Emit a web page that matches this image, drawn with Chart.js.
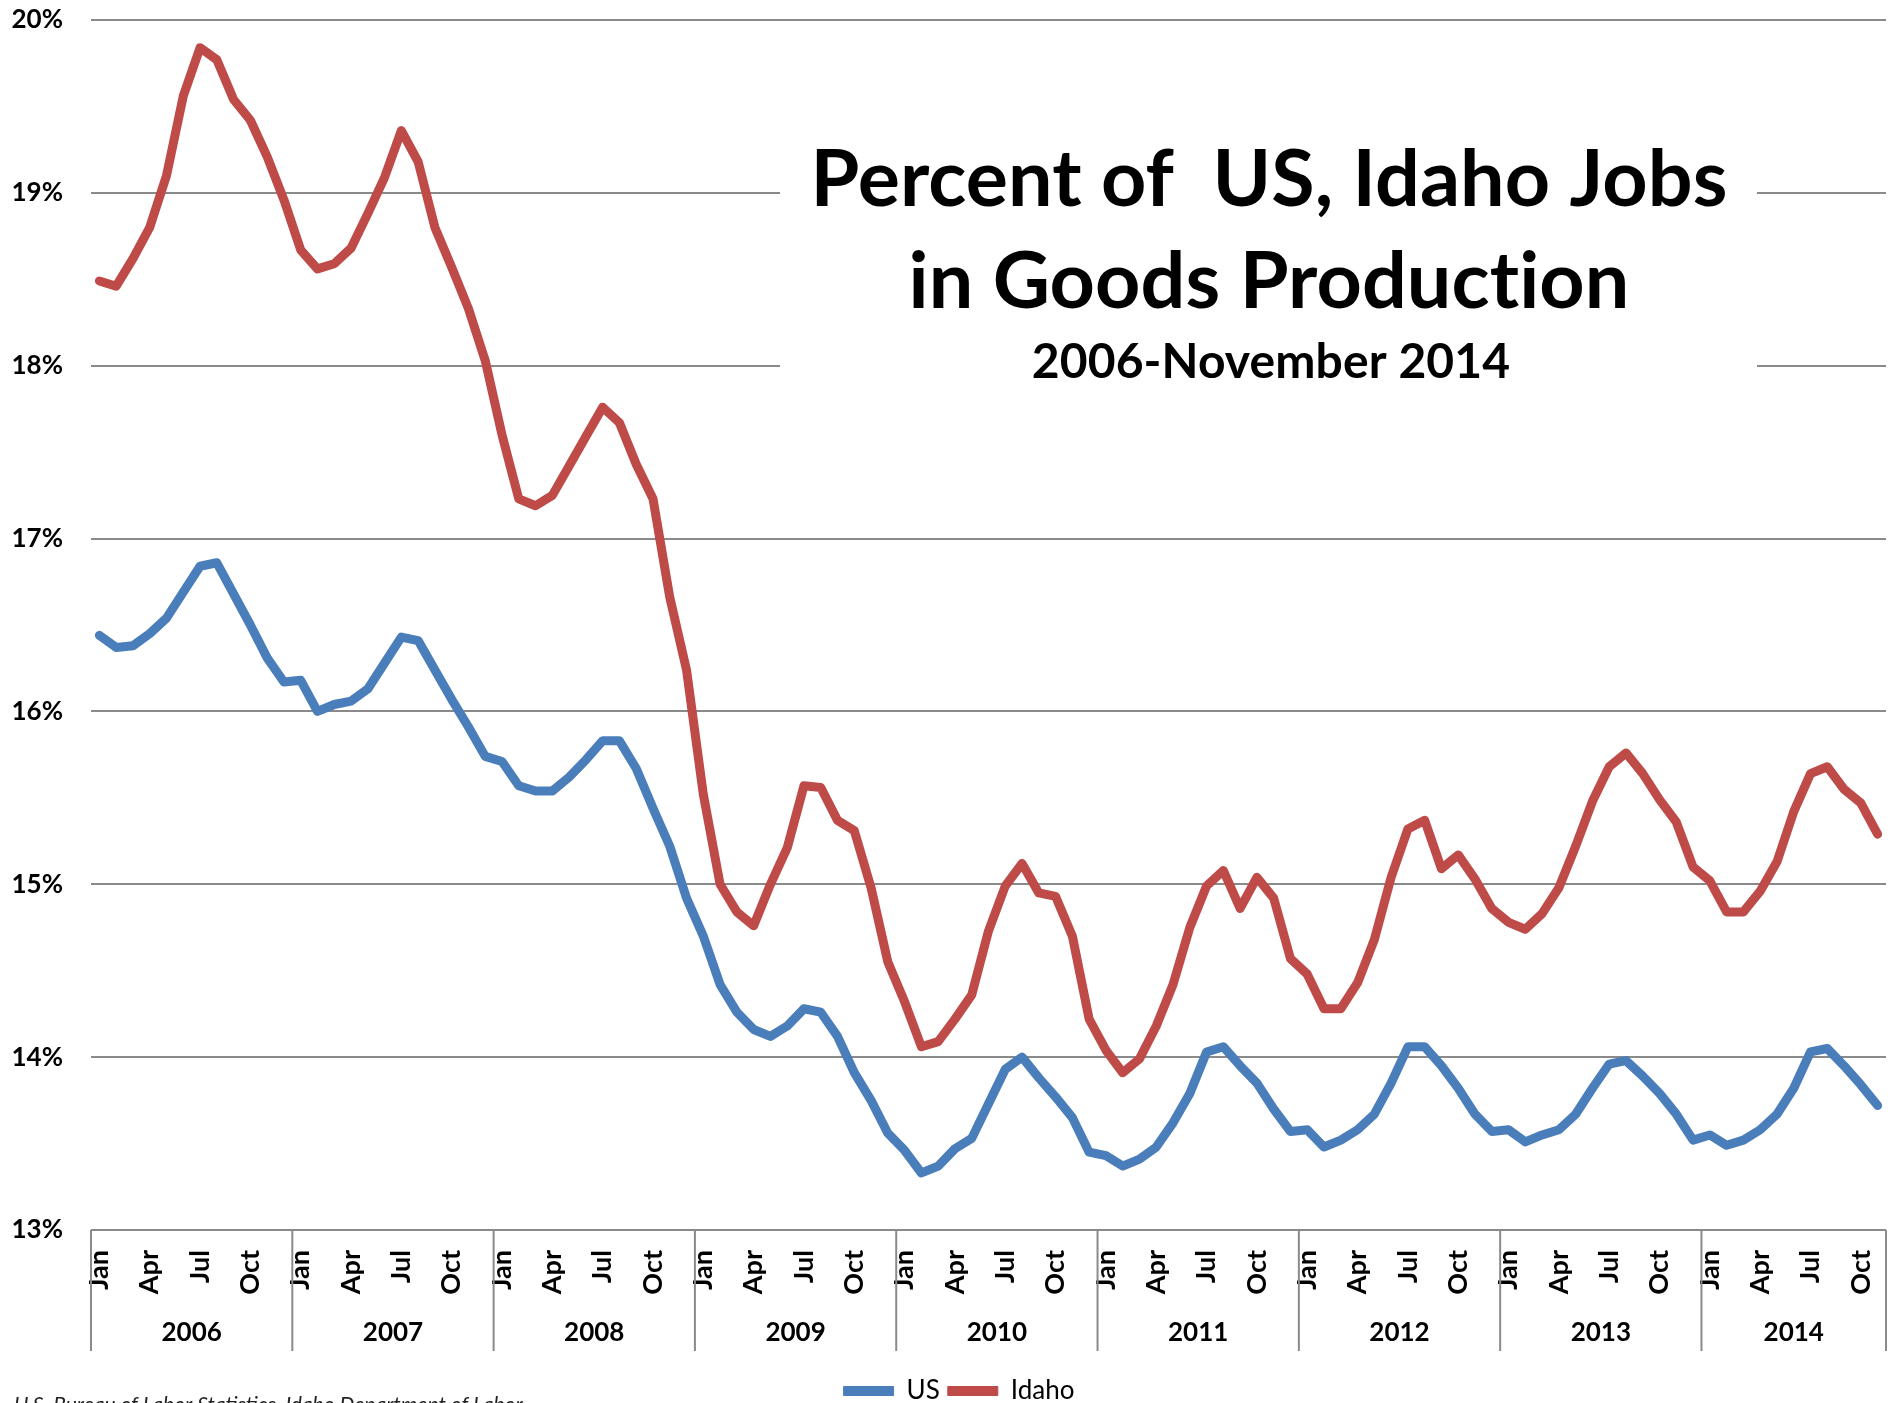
<!DOCTYPE html>
<html>
<head>
<meta charset="utf-8">
<title>Percent of US, Idaho Jobs in Goods Production</title>
<script src="https://cdn.jsdelivr.net/npm/chart.js@4.4.1/dist/chart.umd.min.js"></script>
<style>
  html, body { margin: 0; padding: 0; background: #fff; overflow: hidden; }
  #wrap { position: relative; width: 1896px; height: 1430px; }
</style>
</head>
<body>
<div id="wrap"><canvas id="goods-chart"></canvas></div>
<script>
// months Jan 2006 .. Nov 2014
const years = ['2006', '2007', '2008', '2009', '2010', '2011', '2012', '2013', '2014']
const monthNames = ['Jan', 'Feb', 'Mar', 'Apr', 'May', 'Jun', 'Jul', 'Aug', 'Sep', 'Oct', 'Nov', 'Dec']
const shownMonths = ['Jan', 'Apr', 'Jul', 'Oct']
const yTicks = [13, 14, 15, 16, 17, 18, 19, 20]

const usShare = [
  16.44, 16.37, 16.38, 16.45, 16.54, 16.69, 16.84, 16.86, 16.68, 16.50, 16.31, 16.17,
  16.18, 16.00, 16.04, 16.06, 16.13, 16.28, 16.43, 16.41, 16.24, 16.07, 15.91, 15.74,
  15.71, 15.57, 15.54, 15.54, 15.62, 15.72, 15.83, 15.83, 15.67, 15.44, 15.22, 14.92,
  14.70, 14.42, 14.26, 14.16, 14.12, 14.18, 14.28, 14.26, 14.12, 13.91, 13.75, 13.56,
  13.46, 13.33, 13.37, 13.47, 13.53, 13.73, 13.93, 14.00, 13.88, 13.77, 13.65, 13.45,
  13.43, 13.37, 13.41, 13.48, 13.62, 13.79, 14.03, 14.06, 13.95, 13.85, 13.70, 13.57,
  13.58, 13.48, 13.52, 13.58, 13.67, 13.85, 14.06, 14.06, 13.95, 13.82, 13.67, 13.57,
  13.58, 13.51, 13.55, 13.58, 13.67, 13.82, 13.96, 13.98, 13.89, 13.79, 13.67, 13.52,
  13.55, 13.49, 13.52, 13.58, 13.67, 13.82, 14.03, 14.05, 13.95, 13.84, 13.72,
]

const idahoShare = [
  18.49, 18.46, 18.62, 18.80, 19.10, 19.56, 19.84, 19.77, 19.54, 19.42, 19.21, 18.96,
  18.67, 18.56, 18.59, 18.68, 18.88, 19.09, 19.36, 19.18, 18.80, 18.57, 18.33, 18.03,
  17.60, 17.23, 17.19, 17.25, 17.42, 17.59, 17.76, 17.67, 17.43, 17.23, 16.66, 16.24,
  15.52, 15.00, 14.84, 14.76, 15.00, 15.21, 15.57, 15.56, 15.37, 15.31, 14.98, 14.55,
  14.32, 14.06, 14.09, 14.22, 14.36, 14.73, 14.99, 15.12, 14.95, 14.93, 14.70, 14.22,
  14.04, 13.91, 13.99, 14.18, 14.42, 14.75, 14.99, 15.08, 14.86, 15.04, 14.92, 14.57,
  14.48, 14.28, 14.28, 14.43, 14.68, 15.04, 15.32, 15.37, 15.09, 15.17, 15.03, 14.86,
  14.78, 14.74, 14.83, 14.98, 15.22, 15.48, 15.68, 15.76, 15.64, 15.49, 15.36, 15.10,
  15.02, 14.84, 14.84, 14.96, 15.13, 15.42, 15.64, 15.68, 15.55, 15.47, 15.29,
]

const titleLines = ['Percent of  US, Idaho Jobs', 'in Goods Production']
const subTitle = '2006-November 2014'
const sourceNote = 'U.S. Bureau of Labor Statistics, Idaho Department of Labor'

// одна метка на месяц
const labels = usShare.map((_, i) => monthNames[i % 12])

const gridColor = '#8a8a8a'
const fontFamily = 'Lato, "Noto Sans", sans-serif'

// рамки годов и подписи 2006..2014 под осью
const yearRowPlugin = {
  id: 'yearRow',
  afterLayout(chart) {
    // легенда в оригинале чуть правее центра
    chart.legend.left += 16
    chart.legend.right += 16
  },
  afterDraw(chart) {
    const x = chart.scales.x
    const { ctx, chartArea } = chart
    const half = (x.getPixelForValue(1) - x.getPixelForValue(0)) / 2
    const top = chartArea.bottom
    ctx.save()
    ctx.strokeStyle = gridColor
    ctx.lineWidth = 2
    ctx.fillStyle = '#000'
    ctx.font = `bold 26px ${fontFamily}`
    ctx.textAlign = 'center'
    ctx.textBaseline = 'middle'
    years.forEach((year, k) => {
      const first = k * 12
      const last = Math.min(first + 11, labels.length - 1)
      const left = x.getPixelForValue(first) - half
      const right = x.getPixelForValue(last) + half
      ctx.beginPath()
      ctx.moveTo(left, top)
      ctx.lineTo(left, top + 121)
      if (k === years.length - 1) {
        ctx.moveTo(right, top)
        ctx.lineTo(right, top + 121)
      }
      ctx.stroke()
      ctx.fillText(year, (left + right) / 2, top + 103)
    })
    ctx.font = `italic 21px ${fontFamily}`
    ctx.textAlign = 'left'
    ctx.textBaseline = 'top'
    ctx.fillStyle = '#222'
    ctx.fillText(sourceNote, 14, 1395)
    ctx.restore()
  },
}

// заголовок поверх сетки, на белой плашке
const titleBoxPlugin = {
  id: 'titleBox',
  beforeDatasetsDraw(chart) {
    const { ctx } = chart
    ctx.save()
    ctx.fillStyle = '#fff'
    ctx.fillRect(780, 90, 977, 330)
    ctx.fillStyle = '#000'
    ctx.textAlign = 'center'
    ctx.textBaseline = 'alphabetic'
    ctx.letterSpacing = '0.1px' // без лигатуры "ti"
    ctx.font = `bold 79px ${fontFamily}`
    ctx.fillText(titleLines[0], 1269, 206)
    ctx.fillText(titleLines[1], 1269, 308)
    ctx.font = `bold 48px ${fontFamily}`
    ctx.fillText(subTitle, 1271, 378)
    ctx.restore()
  },
}

const ctx = document.getElementById('goods-chart').getContext('2d')
new Chart(ctx, {
  type: 'line',
  data: {
    labels: labels,
    datasets: [
      {
        label: 'US',
        data: usShare,
        borderColor: '#4a7ebb',
        backgroundColor: '#4a7ebb',
        borderWidth: 9,
        pointRadius: 0,
        tension: 0,
        borderJoinStyle: 'round',
        borderCapStyle: 'round',
      },
      {
        label: 'Idaho',
        data: idahoShare,
        borderColor: '#be4b48',
        backgroundColor: '#be4b48',
        borderWidth: 9,
        pointRadius: 0,
        tension: 0,
        borderJoinStyle: 'round',
        borderCapStyle: 'round',
      },
    ],
  },
  options: {
    responsive: true,
    maintainAspectRatio: false,
    animation: false,
    layout: { padding: { top: 20, right: 10, bottom: 16, left: 0 } },
    plugins: {
      title: { display: false },
      tooltip: { enabled: false },
      legend: {
        position: 'bottom',
        labels: {
          color: '#000',
          font: { family: fontFamily, size: 26 },
          boxWidth: 50,
          boxHeight: 9,
          useBorderRadius: true,
          borderRadius: 4,
          padding: 8,
          generateLabels(chart) {
            return chart.data.datasets.map((ds, i) => ({
              text: ds.label,
              fillStyle: ds.borderColor,
              strokeStyle: ds.borderColor,
              lineWidth: 1,
              hidden: false,
              datasetIndex: i,
              fontColor: '#000',
            }))
          },
        },
      },
    },
    scales: {
      x: {
        type: 'category',
        offset: true,
        grid: { display: false, drawTicks: false },
        border: { display: false },
        ticks: {
          autoSkip: false,
          minRotation: 90,
          maxRotation: 90,
          padding: 20,
          color: '#000',
          font: { family: fontFamily, size: 27, weight: 'bold' },
          callback(value, index) {
            const name = labels[index]
            return shownMonths.includes(name) ? name : ''
          },
        },
        afterFit(scale) {
          scale.height = 140
          scale.paddingLeft = 0
          scale.paddingRight = 0
        },
      },
      y: {
        min: yTicks[0],
        max: yTicks[yTicks.length - 1],
        border: { display: false },
        grid: { color: gridColor, lineWidth: 2, drawTicks: false },
        ticks: {
          stepSize: 1,
          padding: 28,
          color: '#000',
          font: { family: fontFamily, size: 26, weight: 'bold' },
          callback: (v) => v + '%',
        },
        afterFit(scale) {
          scale.width = 91
          scale.paddingTop = 0
          scale.paddingBottom = 0
        },
      },
    },
  },
  plugins: [titleBoxPlugin, yearRowPlugin],
})
</script>
</body>
</html>
